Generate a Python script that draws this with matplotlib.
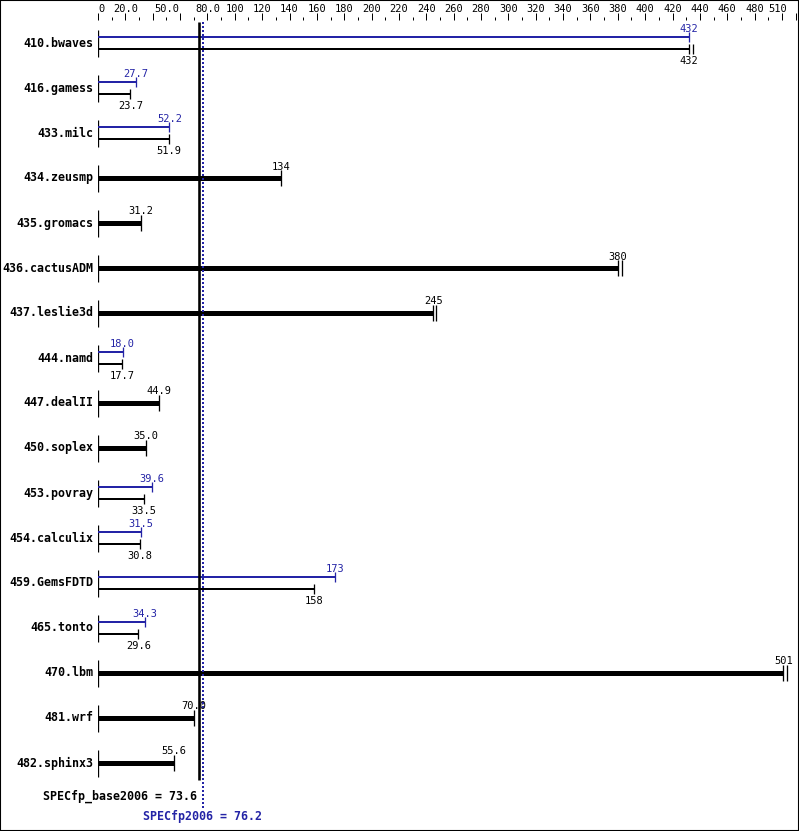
import matplotlib
matplotlib.use('Agg')
import matplotlib.pyplot as plt
from matplotlib.patches import Rectangle

# ---------------- data ----------------
benchmarks = ["410.bwaves", "416.gamess", "433.milc", "434.zeusmp", "435.gromacs",
              "436.cactusADM", "437.leslie3d", "444.namd", "447.dealII", "450.soplex",
              "453.povray", "454.calculix", "459.GemsFDTD", "465.tonto", "470.lbm",
              "481.wrf", "482.sphinx3"]
base_ratio = [432, 23.7, 51.9, 134, 31.2, 380, 245, 17.7, 44.9, 35.0,
              33.5, 30.8, 158, 29.6, 501, 70.0, 55.6]
base_labels = ["432", "23.7", "51.9", "134", "31.2", "380", "245", "17.7", "44.9", "35.0",
               "33.5", "30.8", "158", "29.6", "501", "70.0", "55.6"]
peak_ratio = [432, 27.7, 52.2, None, None, None, None, 18.0, None, None,
              39.6, 31.5, 173, 34.3, None, None, None]
peak_labels = ["432", "27.7", "52.2", None, None, None, None, "18.0", None, None,
               "39.6", "31.5", "173", "34.3", None, None, None]
# other base run results visible as extra end marks
base_other_run = [435, None, None, None, None, 383, 247, None, None, None,
                  None, None, None, None, 504, None, None]

spec_base = 73.6
spec_peak = 76.2
spec_base_label = "SPECfp_base2006 = 73.6"
spec_peak_label = "SPECfp2006 = 76.2"

major_ticks = list(range(0, 501, 20)) + [510]
minor_ticks = list(range(10, 501, 20))
labelled_major = [0, 20] + list(range(80, 481, 20))
labelled_minor = [50]
xmax = 511

# ---------------- style ----------------
W, H = 799, 831
DPI = 100
BLUE = '#2424a6'
ROW0, ROWH, AX_TOP = 43, 45, 20
mono = 'DejaVu Sans Mono'
SCALE = (797 - 98) / xmax  # pixels per unit


def px(d):
    return d / ROWH


def tick_text(t):
    if t == 0:
        return "0"
    return "%d" % t if t >= 100 else "%.1f" % t


fig = plt.figure(figsize=(W / DPI, H / DPI), dpi=DPI)
fig.patch.set_facecolor('white')
ax = fig.add_axes([98 / W, 0, (797 - 98) / W, (H - AX_TOP) / H])
ax.set_xlim(0, xmax)
ax.set_ylim((H - ROW0) / ROWH, (AX_TOP - ROW0) / ROWH)
for s in ax.spines.values():
    s.set_visible(False)
ax.yaxis.set_visible(False)

# top ticks
ax.xaxis.set_ticks_position('top')
ax.set_xticks(major_ticks,
              labels=[tick_text(t) if t in labelled_major else "" for t in major_ticks])
ax.set_xticks(minor_ticks,
              labels=[tick_text(t) if t in labelled_minor else "" for t in minor_ticks], minor=True)
pt = 72 / DPI
ax.tick_params(axis='x', which='major', direction='out', length=7 * pt, width=1 * pt,
               pad=-0.5 * pt, labelsize=7.5, labelfontfamily=mono)
ax.tick_params(axis='x', which='minor', direction='out', length=3 * pt, width=1 * pt,
               pad=3.5 * pt, labelsize=7.5, labelfontfamily=mono)
for lbl in ax.get_xticklabels():
    if lbl.get_text() == "0":
        lbl.set_horizontalalignment('left')
ax.annotate("510", xy=(510, 1), xycoords=('data', 'axes fraction'), xytext=(-9, 5.5),
            textcoords='offset pixels', ha='right', va='bottom', fontsize=7.5, family=mono)

lw_pair = 2 * pt
lw_single = 5 * pt
lw_cap = 1.3 * pt

for i, name in enumerate(benchmarks):
    y = i
    ax.text(-5 / SCALE, y, name, ha='right', va='center', fontsize=8.4,
            fontweight='bold', family=mono, color='black')
    ax.vlines(0, y - px(13), y + px(14), color='black', lw=lw_cap)
    b = base_ratio[i]
    p = peak_ratio[i]
    if p is None:
        ax.hlines(y, 0, b, color='black', lw=lw_single)
        ax.vlines(b, y - px(8), y + px(8), color='black', lw=lw_cap)
        if base_other_run[i] is not None:
            ax.vlines(base_other_run[i], y - px(8), y + px(8), color='black', lw=lw_cap)
        ax.text(b, y - px(11.5), base_labels[i], ha='center', va='center',
                fontsize=7.5, family=mono, color='black')
    else:
        yp = y - px(6)
        yb = y + px(6)
        ax.hlines(yp, 0, p, color=BLUE, lw=lw_pair)
        ax.vlines(p, yp - px(5), yp + px(5), color=BLUE, lw=lw_cap)
        ax.text(p, yp - px(8), peak_labels[i], ha='center', va='center',
                fontsize=7.5, family=mono, color=BLUE)
        ax.hlines(yb, 0, b, color='black', lw=lw_pair)
        ax.vlines(b, yb - px(5), yb + px(5), color='black', lw=lw_cap)
        if base_other_run[i] is not None:
            ax.vlines(base_other_run[i], yb - px(5), yb + px(5), color='black', lw=lw_cap)
        ax.text(b, yb + px(12), base_labels[i], ha='center', va='center',
                fontsize=7.5, family=mono, color='black')

# overall metric lines
ax.vlines(spec_base, (22 - ROW0) / ROWH, (780 - ROW0) / ROWH, color='black', lw=2.6 * pt)
ax.vlines(spec_peak + 0.4, (22 - ROW0) / ROWH, (808 - ROW0) / ROWH, color=BLUE, lw=2 * pt,
          linestyles=(0, (1, 1)))
ax.text(spec_base - 2 / SCALE, (796 - ROW0) / ROWH, spec_base_label, ha='right', va='center',
        fontsize=8.4, fontweight='bold', family=mono, color='black')
ax.text(spec_peak, (817 - ROW0) / ROWH, spec_peak_label, ha='center', va='center',
        fontsize=8.4, fontweight='bold', family=mono, color=BLUE)

# outer frame
fig.add_artist(Rectangle((0, 0), 1, 1, transform=fig.transFigure, fill=False,
                         lw=1.5, ec='black'))

fig.savefig('out.png', dpi=DPI)
